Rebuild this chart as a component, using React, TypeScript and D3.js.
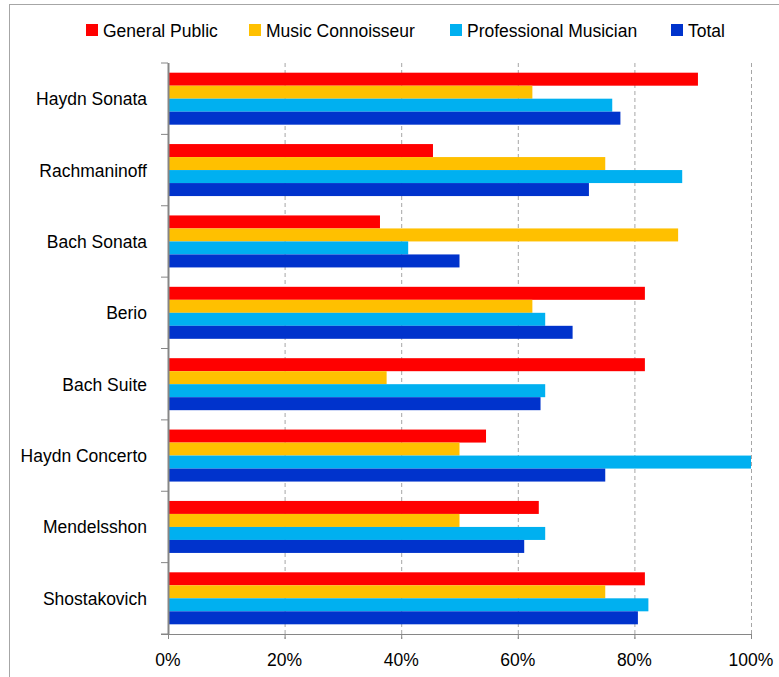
import React from "react";
import * as d3 from "d3";

const categories = ["Haydn Sonata", "Rachmaninoff", "Bach Sonata", "Berio", "Bach Suite", "Haydn Concerto", "Mendelsshon", "Shostakovich"];
const seriesNames = ["General Public", "Music Connoisseur", "Professional Musician", "Total"];
const generalPublic = [0.909, 0.4545, 0.3636, 0.818, 0.818, 0.5455, 0.636, 0.818];
const musicConnoisseur = [0.625, 0.75, 0.875, 0.625, 0.375, 0.5, 0.5, 0.75];
const professionalMusician = [0.762, 0.882, 0.412, 0.647, 0.647, 1.0, 0.647, 0.824];
const total = [0.776, 0.722, 0.5, 0.694, 0.639, 0.75, 0.611, 0.806];
const xTicks = [0, 0.2, 0.4, 0.6, 0.8, 1.0];
const colors = ["#FF0000", "#FFC000", "#00B0F0", "#0033CC"];
const legendX = [86, 249, 450, 671];

export default function App() {
  const W = 779, H = 677;
  const x = d3.scaleLinear().domain([0, 1]).range([168, 751]);
  const y = d3.scaleBand().domain(categories).range([63, 634]).paddingInner(0).paddingOuter(0);
  const series = [generalPublic, musicConnoisseur, professionalMusician, total];
  const barH = 13;
  const font = "'Liberation Sans', Arial, sans-serif";
  const fs = 17.5;

  return (
    <svg width={W} height={H} style={{ position: "absolute", left: 0, top: 0, background: "#fff" }} fontFamily={font}>
      <rect x={9.5} y={4.5} width={W + 10} height={H + 10} fill="none" stroke="#A6A6A6" strokeWidth={1} />
      {/* legend */}
      {seriesNames.map((n, i) => (
        <g key={n}>
          <rect x={legendX[i]} y={24} width={12} height={12} fill={colors[i]} />
          <text x={legendX[i] + 17} y={36.5} fontSize={fs} fill="#000">{n}</text>
        </g>
      ))}
      {/* gridlines */}
      {xTicks.slice(1).map((t) => (
        <line key={t} x1={x(t) + 0.5} x2={x(t) + 0.5} y1={63} y2={639} stroke="#A6A6A6" strokeDasharray="4,3" strokeWidth={1} />
      ))}
      {/* bars */}
      {categories.map((c, ci) => {
        const y0 = (y(c) as number) + (y.bandwidth() - barH * 4) / 2;
        return (
          <g key={c}>
            {series.map((s, si) => (
              <rect key={si} x={x(0)} y={y0 + si * barH} width={x(s[ci]) - x(0)} height={barH} fill={colors[si]} />
            ))}
          </g>
        );
      })}
      {/* y axis */}
      <line x1={168.5} x2={168.5} y1={63} y2={634} stroke="#868686" strokeWidth={2} />
      {d3.range(categories.length + 1).map((i) => {
        const yy = 63 + i * y.step();
        return <line key={i} x1={161} x2={168} y1={yy} y2={yy} stroke="#868686" strokeWidth={1} />;
      })}
      {categories.map((c) => (
        <text key={c} x={147} y={(y(c) as number) + y.bandwidth() / 2 + 6.5} textAnchor="end" fontSize={fs} fill="#000">{c}</text>
      ))}
      {/* x axis */}
      <line x1={161} x2={752} y1={634.5} y2={634.5} stroke="#868686" strokeWidth={1} />
      {xTicks.map((t) => (
        <g key={t}>
          <line x1={x(t) + 0.5} x2={x(t) + 0.5} y1={634} y2={639} stroke="#868686" strokeWidth={1} />
          <text x={x(t)} y={666} textAnchor="middle" fontSize={fs} fill="#000">{d3.format(".0%")(t)}</text>
        </g>
      ))}
    </svg>
  );
}
